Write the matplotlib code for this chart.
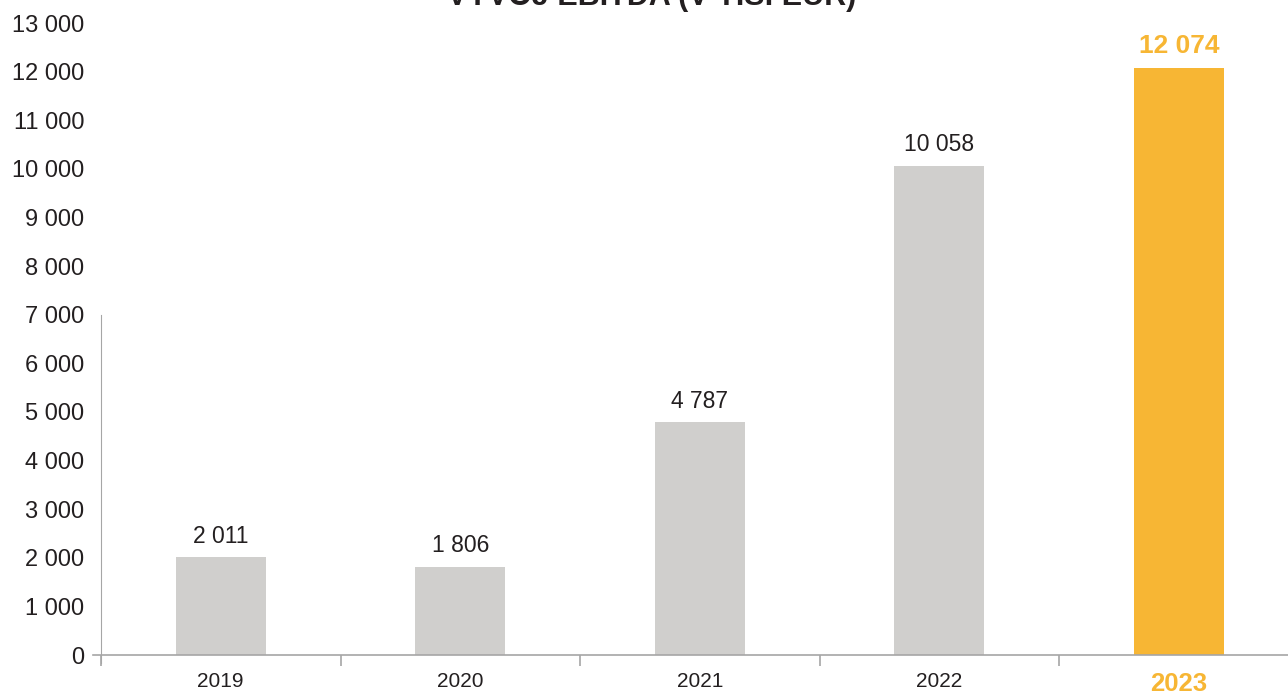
import numpy as np
import matplotlib
matplotlib.use("Agg")
from matplotlib import pyplot as plt

# data
years = ['2019', '2020', '2021', '2022', '2023']
ebitda = [2011, 1806, 4787, 10058, 12074]
value_labels = ['2 011', '1 806', '4 787', '10 058', '12 074']
yticks = np.arange(0, 13001, 1000)

grey = '#d0cfcd'
orange = '#f7b634'
dark = '#231f20'

plt.rcParams['font.family'] = ['Liberation Sans', 'DejaVu Sans']

fig = plt.figure(figsize=(12.88, 6.92), dpi=100)
# one category = ~239.5 px, x-axis line starts a little left of the y spine
ax = fig.add_axes([92.6 / 1288, 37 / 692, 1206 / 1288, 632 / 692])

x = np.arange(len(years))
colors = [grey] * (len(years) - 1) + [orange]
bars = ax.bar(x, ebitda, width=0.375, color=colors, zorder=2)

for i, (b, lab) in enumerate(zip(bars, value_labels)):
    last = i == len(years) - 1
    ax.annotate(lab, (b.get_x() + b.get_width() / 2, b.get_height()),
                xytext=(0, 7), textcoords='offset points',
                ha='center', va='bottom',
                fontsize=19 if last else 16.5,
                fontweight='bold' if last else 'normal',
                color=orange if last else dark)

ax.set_xlim(-0.535, 4.5)
ax.set_ylim(0, 13000)
ax.set_yticks(yticks)
ax.set_yticklabels([f'{v:,}'.replace(',', ' ') for v in yticks])
ax.tick_params(axis='y', length=0, pad=12, labelsize=17, labelcolor=dark)

ax.set_xticks(x)
ax.set_xticklabels(years)
ax.tick_params(axis='x', length=0, pad=12, labelsize=15, labelcolor=dark)
ax.set_xticks(np.arange(-0.5, 4.6, 1), minor=True)
ax.tick_params(axis='x', which='minor', length=8, width=1.2, color='#a6a6a6', direction='out')
lab23 = ax.get_xticklabels()[-1]
lab23.set_color(orange)
lab23.set_fontweight('bold')
lab23.set_fontsize(18.5)

for s in ['top', 'right']:
    ax.spines[s].set_visible(False)
ax.spines['left'].set_bounds(-160, 7000)
ax.spines['left'].set_position(('data', -0.5))
ax.spines['left'].set_color('#a6a6a6')
ax.spines['bottom'].set_color('#a6a6a6')
ax.spines['bottom'].set_linewidth(1.2)

fig.text(0.506, 0.993, 'VÝVOJ EBITDA (V TIS. EUR)', ha='center', va='baseline',
         fontsize=22, fontweight='bold', color=dark)

plt.savefig('out.png', dpi=100)
plt.close()
